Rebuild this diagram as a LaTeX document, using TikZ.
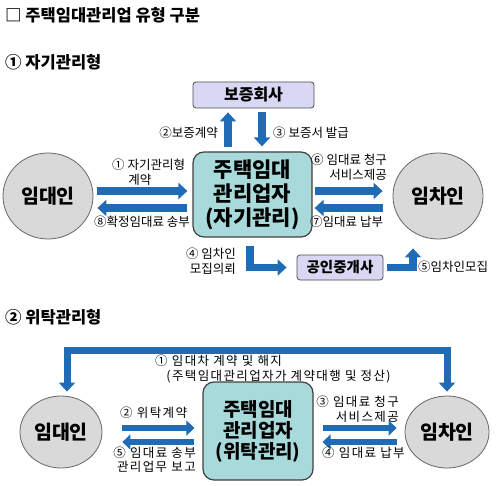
\documentclass[tikz,border=0pt]{standalone}
\usepackage{fontspec}
\setmainfont{Noto Sans CJK KR}
\newfontfamily\spacedkr{Noto Sans CJK KR}[LetterSpace=11]
\usepackage{tikz}
\usetikzlibrary{positioning, arrows.meta, shapes.geometric}
\definecolor{flowblue}{HTML}{1F6BB5}
\definecolor{mgrfill}{HTML}{A8DADB}
\definecolor{firmfill}{HTML}{D8D8F4}
\definecolor{partyfill}{HTML}{D9D9D9}
\tikzset{
  party/.style={ellipse, draw=black!60, fill=partyfill, line width=0.8pt, inner sep=0pt, font=\fontsize{19.5}{22}\selectfont\bfseries},
  mgr/.style={rectangle, rounded corners=11pt, draw=black!75, fill=mgrfill, line width=1.2pt, align=center, inner sep=0pt},
  firm/.style={rectangle, rounded corners=3pt, draw=black!70, fill=firmfill, line width=0.8pt, inner sep=0pt},
  lbl/.style={font=\fontsize{12.5}{15}\selectfont, inner sep=0pt},
  lblB/.style={font=\spacedkr\fontsize{12.5}{14.5}\selectfont, inner sep=0pt},
  head/.style={font=\fontsize{16.5}{20}\selectfont\bfseries, inner sep=0pt, anchor=west},
  flow/.style={draw=flowblue, line width=7.5pt, -{Triangle[length=9pt,width=16pt]}},
  flowB/.style={draw=flowblue, line width=6pt, -{Triangle[length=8pt,width=15pt]}},
}
\begin{document}
\begin{tikzpicture}[x=1pt,y=-1pt]
\useasboundingbox (0,0) rectangle (500,486);
\node[head] (title) at (5,15) {□ 주택임대관리업 유형 구분};
\node[head] (typeA) at (5,62) {① 자기관리형};

\node[firm, minimum width=121pt, minimum height=26pt, font=\fontsize{16}{18}\selectfont\bfseries] (guar) at (253.5,95) {보증회사};
\node[mgr, minimum width=119pt, minimum height=85pt, font=\fontsize{21}{24}\selectfont\bfseries] (mgrA) at (252.5,194.5) {주택임대\\관리업자\\(자기관리)};
\node[party, minimum width=90pt, minimum height=86pt] (lessorA) at (48,196) {임대인};
\node[party, minimum width=90pt, minimum height=86pt] (lesseeA) at (438,196) {임차인};
\node[firm, minimum width=86pt, minimum height=25pt, font=\fontsize{14.5}{17}\selectfont\bfseries] (broker) at (340,267.5) {공인중개사};

\draw[flow] ([shift={(4,-5)}]lessorA.east) -- ([shift={(-5,-3.5)}]mgrA.west);
\draw[flow] ([shift={(-5,13.5)}]mgrA.west) -- ([shift={(4,12)}]lessorA.east);
\draw[flow] ([shift={(2,-3.5)}]mgrA.east) -- ([shift={(-10,-5)}]lesseeA.west);
\draw[flow] ([shift={(-10,12)}]lesseeA.west) -- ([shift={(2,13.5)}]mgrA.east);
\draw[flow] ([shift={(-24.5,-4)}]mgrA.north) -- ([shift={(-25.5,4)}]guar.south);
\draw[flow] ([shift={(8.5,4)}]guar.south) -- ([shift={(9.5,-5)}]mgrA.north);
\draw[flow] ([shift={(-2.5,8)}]mgrA.south) |- ([xshift=-10pt]broker.west);
\draw[flow] ([xshift=4pt]broker.east) -| ([shift={(-25,9)}]lesseeA.south);

\node[lbl, anchor=east] (lblA2) at (218,133) {②보증계약};
\node[lbl, anchor=west] (lblA3) at (273,133) {③ 보증서 발급};
\node[lbl, anchor=west, align=left] (lblA1) at (112,172.5) {① 자기관리형\\\hspace{1.3em}계약};
\node[lbl, anchor=east] (lblA8) at (190,222) {⑧확정임대료 송부};
\node[lbl, anchor=east, align=right] (lblA6) at (387,167.5) {⑥ 임대료 청구\\서비스제공};
\node[lbl, anchor=west] (lblA7) at (310,222) {⑦임대료 납부};
\node[lbl, anchor=east, align=right] (lblA4) at (236,261.5) {④ 임차인\\모집의뢰};
\node[lbl, anchor=west] (lblA5) at (418,267) {⑤임차인모집};

\node[head] (typeB) at (5,317) {② 위탁관리형};
\node[mgr, minimum width=110pt, minimum height=98pt, font=\fontsize{19}{21}\selectfont\bfseries] (mgrB) at (258,431) {주택임대\\관리업자\\(위탁관리)};
\node[party, minimum width=82pt, minimum height=72pt] (lessorB) at (61,432) {임대인};
\node[party, minimum width=84pt, minimum height=72pt] (lesseeB) at (447,432) {임차인};

\coordinate (barA) at (257,350);
\draw[draw=flowblue, line width=7pt, {Triangle[length=9pt,width=16pt]}-{Triangle[length=9pt,width=16pt]}] ([shift={(6,-4)}]lessorB.north) |- (barA) -| ([shift={(0,-4)}]lesseeB.north);
\draw[flowB] ([shift={(20,-4)}]lessorB.east) -- ([shift={(-8,-3)}]mgrB.west);
\draw[flowB] ([shift={(-8,11)}]mgrB.west) -- ([shift={(20,10)}]lessorB.east);
\draw[flowB] ([shift={(9,-3)}]mgrB.east) -- ([shift={(-8,-4)}]lesseeB.west);
\draw[flowB] ([shift={(-8,10)}]lesseeB.west) -- ([shift={(9,11)}]mgrB.east);

\node[lblB, anchor=west, align=left] (lblB1) at (155,369) {① 임대차 계약 및 해지\\\hspace{0.9em}(주택임대관리업자가 계약대행 및 정산)};
\node[lblB, anchor=west] (lblB2) at (120,413) {② 위탁계약};
\node[lblB, anchor=east, align=right] (lblB5) at (196,459.5) {⑤ 임대료 송부\\관리업무 보고};
\node[lblB, anchor=east, align=right] (lblB3) at (399,409) {③ 임대료 청구\\서비스제공};
\node[lblB, anchor=west] (lblB4) at (322,453) {④ 임대료 납부};
\end{tikzpicture}
\end{document}
